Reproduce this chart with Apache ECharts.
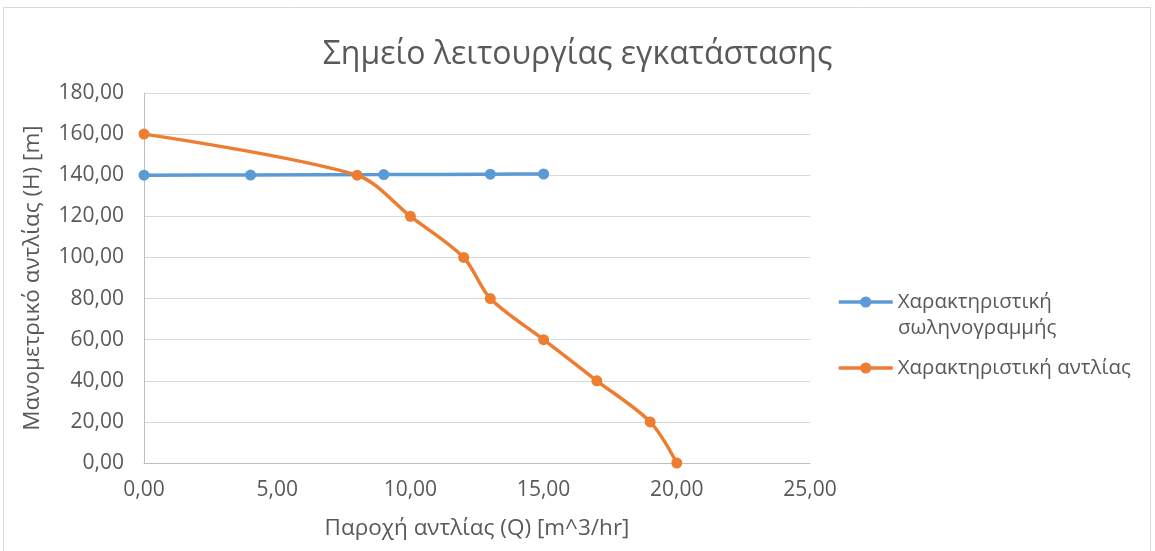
<!DOCTYPE html>
<html><head><meta charset="utf-8">
<script src="https://cdn.jsdelivr.net/npm/echarts@6/dist/echarts.min.js"></script>
<style>html,body{margin:0;padding:0;background:#fff}#c{width:1155px;height:551px}</style>
</head><body><div id="c"></div>
<script>
const titleText = 'Σημείο λειτουργίας εγκατάστασης';
const xName = 'Παροχή αντλίας (Q) [m^3/hr]';
const yName = 'Μανομετρικό αντλίας (H) [m]';
const pipeName = 'Χαρακτηριστική σωληνογραμμής';
const pipeLine1 = 'Χαρακτηριστική';
const pipeLine2 = 'σωληνογραμμής';
const pumpName = 'Χαρακτηριστική αντλίας';
const pipeQ = [0, 4, 9, 13, 15];
const pipeH = [140, 140.1, 140.3, 140.5, 140.6];
const pumpQ = [0, 8, 10, 12, 13, 15, 17, 19, 20];
const pumpH = [160, 140, 120, 100, 80, 60, 40, 20, 0];

const font = '"Open Sans", "Noto Sans", sans-serif';
const fmt = v => v.toFixed(2).replace('.', ',');
const legText = { fontFamily: font, fontSize: 20.5, color: '#595959', lineHeight: 24 };
const chart = echarts.init(document.getElementById('c'));
chart.setOption({
  backgroundColor: '#fff',
  animation: false,
  title: { text: titleText, left: 'center', top: 34, padding: [5, 5, 5, 18],
    textStyle: { fontFamily: font, fontSize: 32, fontWeight: 'normal', color: '#595959' } },
  graphic: [
    { type: 'rect', shape: { x: 3.5, y: 7.5, width: 1147, height: 560 },
      style: { fill: 'none', stroke: '#d9d9d9', lineWidth: 1 } },
    { type: 'text', left: 898, top: 318,
      style: { text: pipeLine2, font: '20.5px "Open Sans", "Noto Sans", sans-serif', fill: '#595959' } }
  ],
  grid: { left: 144, right: 345, top: 93, bottom: 88 },
  legend: [
    { orient: 'vertical', left: 832, top: 285, itemWidth: 54, itemHeight: 14,
      lineStyle: { width: 3.5 },
      textStyle: legText, formatter: () => pipeLine1, data: [pipeName] },
    { orient: 'vertical', left: 832, top: 351, itemWidth: 54, itemHeight: 14,
      lineStyle: { width: 3.5 },
      textStyle: legText, data: [pumpName] }
  ],
  xAxis: {
    type: 'value', min: 0, max: 25, interval: 5,
    name: xName, nameLocation: 'middle', nameGap: 54,
    nameTextStyle: { fontFamily: font, fontSize: 22.5, color: '#595959' },
    axisLine: { show: true, onZero: false, lineStyle: { color: '#bfbfbf' } },
    axisTick: { show: false },
    axisLabel: { formatter: fmt, fontFamily: font, fontSize: 21, color: '#595959', margin: 17 },
    splitLine: { show: false }
  },
  yAxis: {
    type: 'value', min: 0, max: 180, interval: 20,
    name: yName, nameLocation: 'middle', nameGap: 100,
    nameTextStyle: { fontFamily: font, fontSize: 22.5, color: '#595959' },
    axisLine: { show: true, lineStyle: { color: '#bfbfbf' } },
    axisTick: { show: false },
    axisLabel: { formatter: fmt, fontFamily: font, fontSize: 21, color: '#595959', margin: 20 },
    splitLine: { lineStyle: { color: '#d9d9d9' } }
  },
  series: [
    { name: pipeName, type: 'line', smooth: 0.3, symbol: 'circle', symbolSize: 11,
      data: pipeQ.map((q, i) => [q, pipeH[i]]),
      itemStyle: { color: '#5b9bd5' }, lineStyle: { color: '#5b9bd5', width: 3.5 } },
    { name: pumpName, type: 'line', smooth: 0.3, symbol: 'circle', symbolSize: 11,
      data: pumpQ.map((q, i) => [q, pumpH[i]]),
      itemStyle: { color: '#ed7d31' }, lineStyle: { color: '#ed7d31', width: 3.5 } }
  ]
});
</script></body></html>
